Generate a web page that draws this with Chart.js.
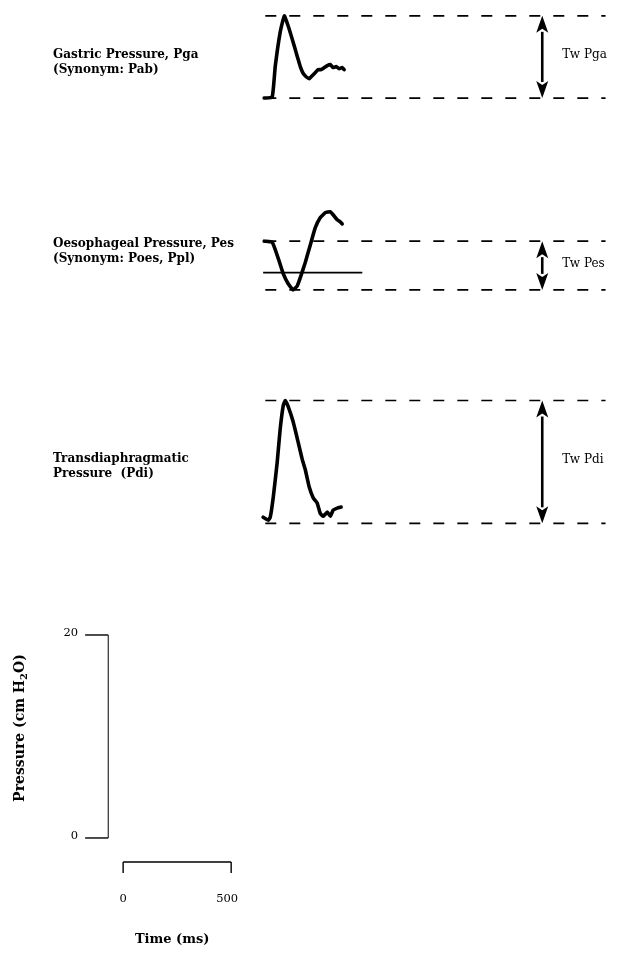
<!DOCTYPE html>
<html>
<head>
<meta charset="utf-8">
<script src="https://cdn.jsdelivr.net/npm/chart.js@4.4.1/dist/chart.umd.min.js"></script>
<style>
  html, body { margin: 0; padding: 0; background: #fff; }
  canvas { display: block; }
</style>
</head>
<body>
<canvas id="chart" width="617" height="954"></canvas>
<script>
// Twitch traces: time in ms from start of twitch, pressure in cm H2O above baseline
const pgaTime = [0, 37, 51, 74, 93, 111, 134, 153, 167, 181, 194, 208, 222, 236, 250, 264, 278, 292, 306, 319, 333, 347, 361, 370];
const pgaValues = [0, 0.1, 3.1, 6.5, 8.1, 7.1, 5.5, 4.1, 3.1, 2.4, 2.1, 1.9, 2.2, 2.5, 2.8, 2.8, 3.0, 3.2, 3.3, 3.0, 3.1, 2.9, 3.0, 2.8];

const pesTime = [0, 37, 65, 88, 111, 134, 153, 167, 190, 213, 236, 259, 282, 306, 319, 338, 352, 361];
const pesValues = [0, -0.1, -1.7, -3.2, -4.2, -4.8, -4.4, -3.6, -2.1, -0.4, 1.3, 2.3, 2.8, 2.9, 2.6, 2.1, 1.9, 1.7];
const pesReference = -3.1;

const pdiTime = [-5, 19, 28, 42, 60, 74, 88, 97, 111, 134, 157, 176, 190, 208, 227, 245, 259, 273, 292, 306, 319, 338, 356];
const pdiValues = [0.6, 0.3, 0.6, 2.6, 6.0, 9.3, 11.6, 12.1, 11.5, 10.0, 8.0, 6.3, 5.3, 3.6, 2.5, 2.0, 1.0, 0.7, 1.1, 0.7, 1.3, 1.5, 1.6];

// Scale bars
const pressureTicks = [0, 20];
const timeTicks = [0, 500];

const traceLabels = [
    ['Gastric Pressure, Pga', '(Synonym: Pab)'],
    ['Oesophageal Pressure, Pes', '(Synonym: Poes, Ppl)'],
    ['Transdiaphragmatic', 'Pressure  (Pdi)']
];
const twLabels = ['Tw Pga', 'Tw Pes', 'Tw Pdi'];
// twitch amplitude is measured upward for Pga/Pdi, downward for Pes
const twDirection = [1, -1, 1];

// layout (axis units: ms and cm H2O)
const X_MIN = -570, X_MAX = 2286, Y_MIN = -11.43, Y_MAX = 82.56;
const TRACE_START = 653;
const LINE_FROM = 5, LINE_TO = 1580;
const ARROW_AT = 1287;
const baselines = [72.9, 58.8, 31.0];
const PRESSURE_BAR_X = -69, PRESSURE_TICK_X = -176;
const TIME_BAR_Y = -2.36, TIME_TICK_Y = -3.45;

const traces = [
    { time: pgaTime, values: pgaValues },
    { time: pesTime, values: pesValues },
    { time: pdiTime, values: pdiValues }
];

function seg(x1, y1, x2, y2, opts) {
    return Object.assign({
        data: [{ x: x1, y: y1 }, { x: x2, y: y2 }],
        borderColor: '#000',
        borderWidth: 1.5,
        showLine: true,
        pointRadius: 0,
        tension: 0
    }, opts || {});
}

const datasets = [];
const twRanges = [];

traces.forEach((tr, k) => {
    const base = baselines[k];
    datasets.push({
        data: tr.time.map((t, i) => ({ x: TRACE_START + t, y: base + tr.values[i] })),
        borderColor: '#000',
        borderWidth: 3.6,
        showLine: true,
        pointRadius: 0,
        tension: 0.12,
        borderJoinStyle: 'round',
        borderCapStyle: 'round'
    });
    const peak = twDirection[k] > 0 ? Math.max(...tr.values) : Math.min(...tr.values);
    const lo = Math.min(0, peak), hi = Math.max(0, peak);
    twRanges.push([base + lo, base + hi]);
    [lo, hi].forEach(level => {
        datasets.push(seg(TRACE_START + LINE_FROM, base + level, TRACE_START + LINE_TO, base + level,
            { borderDash: [11, 13], borderWidth: 1.7 }));
    });
});

// solid reference line on the oesophageal trace
datasets.push(seg(TRACE_START - 5, baselines[1] + pesReference, TRACE_START + 454, baselines[1] + pesReference, { borderWidth: 1.7 }));

// pressure scale bar
datasets.push(seg(PRESSURE_BAR_X, pressureTicks[0], PRESSURE_BAR_X, pressureTicks[1], { borderWidth: 1 }));
pressureTicks.forEach(v => datasets.push(seg(PRESSURE_TICK_X, v, PRESSURE_BAR_X, v, { borderWidth: 1.4 })));

// time scale bar
datasets.push(seg(timeTicks[0], TIME_BAR_Y, timeTicks[1], TIME_BAR_Y, { borderWidth: 1.4 }));
timeTicks.forEach(v => datasets.push(seg(v, TIME_BAR_Y, v, TIME_TICK_Y, { borderWidth: 1.4 })));

function drawArrow(ctx, x, y1, y2) {
    const span = y2 - y1;
    const head = Math.min(17, span / 2 - 1);
    const hw = 6;
    ctx.beginPath();
    ctx.moveTo(x, y1 + head - 1);
    ctx.lineTo(x, y2 - head + 1);
    ctx.lineWidth = 2.6;
    ctx.strokeStyle = '#000';
    ctx.stroke();
    ctx.beginPath();
    ctx.moveTo(x, y1);
    ctx.lineTo(x - hw, y1 + head);
    ctx.lineTo(x, y1 + head - 4);
    ctx.lineTo(x + hw, y1 + head);
    ctx.closePath();
    ctx.moveTo(x, y2);
    ctx.lineTo(x - hw, y2 - head);
    ctx.lineTo(x, y2 - head + 4);
    ctx.lineTo(x + hw, y2 - head);
    ctx.closePath();
    ctx.fillStyle = '#000';
    ctx.fill();
}

const annotations = {
    id: 'annotations',
    afterDatasetsDraw(chart) {
        const ctx = chart.ctx;
        const xs = chart.scales.x, ys = chart.scales.y;
        ctx.save();
        ctx.fillStyle = '#000';

        // left labels
        ctx.font = 'bold 12px "DejaVu Serif"';
        ctx.textAlign = 'left';
        ctx.textBaseline = 'middle';
        const labelY = [55, 244, 459];
        traceLabels.forEach((lines, k) => {
            lines.forEach((s, j) => ctx.fillText(s, 53, labelY[k] + j * 15));
        });

        // twitch amplitude arrows + labels
        const ax = xs.getPixelForValue(TRACE_START + ARROW_AT);
        twRanges.forEach((r, k) => {
            const top = ys.getPixelForValue(r[1]);
            const bot = ys.getPixelForValue(r[0]);
            drawArrow(ctx, ax, top, bot);
            ctx.font = '12px "DejaVu Serif"';
            ctx.textAlign = 'left';
            ctx.fillText(twLabels[k], ax + 20, (top + bot) / 2 - 2);
        });

        // pressure scale labels
        ctx.font = '11.5px "DejaVu Serif"';
        ctx.textAlign = 'right';
        const tickX = xs.getPixelForValue(PRESSURE_TICK_X);
        pressureTicks.forEach(v => ctx.fillText(String(v), tickX - 7, ys.getPixelForValue(v) - 2));

        // time scale labels
        ctx.textAlign = 'center';
        const ty = ys.getPixelForValue(TIME_TICK_Y);
        timeTicks.forEach(v => ctx.fillText(String(v), xs.getPixelForValue(v) - (v ? 4 : 0), ty + 26));

        ctx.font = 'bold 13px "DejaVu Serif"';
        ctx.fillText('Time (ms)', (xs.getPixelForValue(timeTicks[0]) + xs.getPixelForValue(timeTicks[1])) / 2 - 5, 940);

        // rotated pressure axis title with subscript
        ctx.translate(20, 728);
        ctx.rotate(-Math.PI / 2);
        const partA = 'Pressure (cm H', partB = '2', partC = 'O)';
        ctx.font = 'bold 14px "DejaVu Serif"';
        const wA = ctx.measureText(partA).width, wC = ctx.measureText(partC).width;
        ctx.font = 'bold 10px "DejaVu Serif"';
        const wB = ctx.measureText(partB).width;
        let x0 = -(wA + wB + wC) / 2;
        ctx.textAlign = 'left';
        ctx.font = 'bold 14px "DejaVu Serif"';
        ctx.fillText(partA, x0, 0);
        ctx.font = 'bold 10px "DejaVu Serif"';
        ctx.fillText(partB, x0 + wA, 4);
        ctx.font = 'bold 14px "DejaVu Serif"';
        ctx.fillText(partC, x0 + wA + wB, 0);
        ctx.restore();
    }
};

new Chart(document.getElementById('chart').getContext('2d'), {
    type: 'scatter',
    data: { datasets },
    options: {
        responsive: false,
        animation: false,
        layout: { padding: 0 },
        plugins: { legend: { display: false }, tooltip: { enabled: false } },
        scales: {
            x: { type: 'linear', min: X_MIN, max: X_MAX, display: false },
            y: { type: 'linear', min: Y_MIN, max: Y_MAX, display: false }
        }
    },
    plugins: [annotations]
});
</script>
</body>
</html>
